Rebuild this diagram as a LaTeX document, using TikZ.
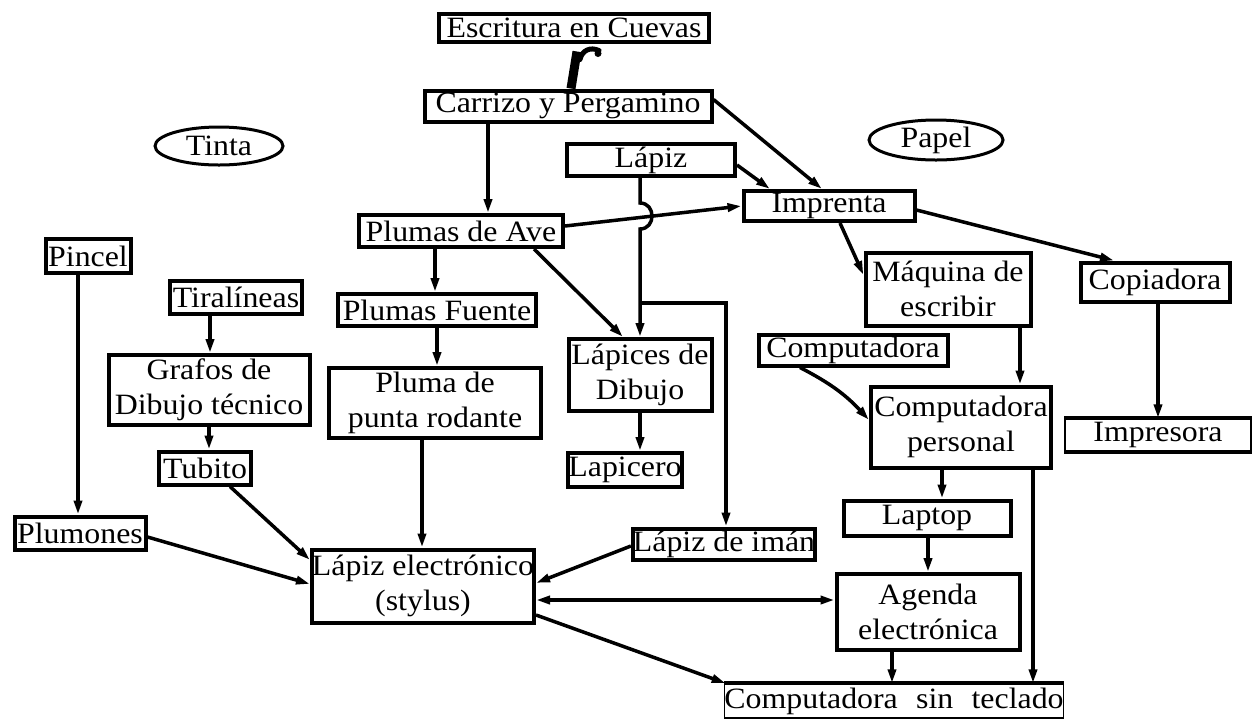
\documentclass[tikz,border=0pt]{standalone}
\usepackage{fontspec}
\setmainfont{Liberation Serif}[FakeStretch=1.08]
\usetikzlibrary{arrows.meta,shapes.geometric}
\tikzset{
  txt/.style={font=\fontsize{29.5}{35}\selectfont},
  box/.style={txt, draw, line width=4pt, inner sep=0pt, align=center},
  thinbox/.style={txt, draw, line width=1.5pt, inner sep=0pt, align=center},
  oval/.style={txt, ellipse, draw, line width=3pt, inner sep=0pt},
  link/.style={line width=3.5pt, -{Triangle[length=14pt,width=8pt]}},
  twoway/.style={line width=3.5pt, {Triangle[length=14pt,width=8pt]}-{Triangle[length=14pt,width=8pt]}},
  plain/.style={line width=3.5pt}
}
\begin{document}
\begin{tikzpicture}[x=1pt,y=-1pt]
\useasboundingbox (0,0) rectangle (1255,724);

% ---- nodes ----
\node[box, minimum width=270pt, minimum height=28pt] (esc) at (574,27.5) {Escritura en Cuevas};
\node[box, minimum width=287pt, minimum height=31pt] (carr) at (568,106) {Carrizo y Pergamino};
\node[oval, minimum width=128pt, minimum height=38pt] (tinta) at (219,146) {Tinta};
\node[oval, minimum width=134pt, minimum height=40pt] (papel) at (936,140) {Papel};
\node[box, minimum width=168pt, minimum height=32pt] (lapiz) at (651,160) {Lápiz};
\node[box, minimum width=171pt, minimum height=30pt] (impr) at (829,206) {Imprenta};
\node[box, minimum width=204pt, minimum height=32pt] (pave) at (461,231) {Plumas de Ave};
\node[box, minimum width=85pt, minimum height=34pt] (pincel) at (88,256) {Pincel};
\node[box, minimum width=132pt, minimum height=33pt] (tira) at (236,297) {Tiralíneas};
\node[box, minimum width=198pt, minimum height=32pt] (pfuente) at (437,310) {Plumas Fuente};
\node[box, minimum width=165pt, minimum height=73pt] (maq) at (948,289) {Máquina de\\escribir};
\node[box, minimum width=149pt, minimum height=39pt] (copia) at (1155,282) {Copiadora};
\node[box, minimum width=201pt, minimum height=70pt] (grafos) at (209,390) {Grafos de\\Dibujo técnico};
\node[box, minimum width=212pt, minimum height=70pt] (prod) at (435,403) {Pluma de\\punta rodante};
\node[box, minimum width=143pt, minimum height=72pt] (ldib) at (640,375) {Lápices de\\Dibujo};
\node[box, minimum width=189pt, minimum height=31pt] (comp) at (853,350) {Computadora};
\node[box, minimum width=180pt, minimum height=81pt] (cpers) at (961,427) {Computadora\\personal};
\node[thinbox, minimum width=186pt, minimum height=32pt] (impres) at (1158,435) {Impresora};
\node[box, minimum width=92pt, minimum height=33pt] (tubito) at (205,468) {Tubito};
\node[box, minimum width=113pt, minimum height=34pt] (lapicero) at (625,470) {Lapicero};
\node[box, minimum width=131pt, minimum height=33pt] (plum) at (80,533) {Plumones};
\node[box, minimum width=167pt, minimum height=35pt] (laptop) at (927,518) {Laptop};
\node[box, minimum width=181pt, minimum height=31pt] (iman) at (724,544) {Lápiz de imán};
\node[box, minimum width=219pt, minimum height=73pt] (stylus) at (423,586) {Lápiz electrónico\\(stylus)};
\node[box, minimum width=183pt, minimum height=76pt] (agenda) at (928,612) {Agenda\\electrónica};
\node[thinbox, minimum width=334pt, minimum height=34pt] (cst) at (894,701) {Computadora\hspace{0.35em} sin\hspace{0.35em} teclado};

% heavy top and bottom rules of the bracketed boxes
\draw[line width=4pt] (impres.north west) -- (impres.north east);
\draw[line width=4pt] (impres.south west) -- (impres.south east);
\draw[line width=4pt] (cst.north west) -- (cst.north east);

% ---- connectors ----
% heavy hooked stroke from the caves to reed and parchment
\draw[line width=9pt] ([xshift=3pt]carr.north) -- ([xshift=3pt,yshift=-8pt]esc.south);
\draw[line width=5pt, line cap=round] ([xshift=6pt,yshift=-16pt]esc.south)
  .. controls ([xshift=8pt,yshift=-7pt]esc.south) and ([xshift=16pt,yshift=-3pt]esc.south)
  .. ([xshift=25pt,yshift=-7pt]esc.south);
\fill ([xshift=24pt,yshift=-10pt]esc.south) circle (3.5pt);

\draw[link] ([xshift=-80pt]carr.south) -- ([xshift=27pt]pave.north);
\draw[link] ([yshift=-11pt]carr.north east) -- ([xshift=-7pt]impr.north);
\draw[link] ([yshift=-5pt]lapiz.east) -- ([xshift=-59pt]impr.north);
\draw[link] ([yshift=5pt]pave.east) -- (impr.west);

% pencil line jumping over the quill-to-press line
\coordinate (jumpa) at (640,203);
\coordinate (jumpb) at (640,229);
\coordinate (fork) at (640,303);
\draw[link] ([xshift=-11pt]lapiz.south) -- (jumpa)
  .. controls (656,203) and (656,229) .. (jumpb) -- (ldib.north);
\draw[link] (fork) -| ([xshift=2pt]iman.north);

\draw[link] ([xshift=-26pt]pave.south) -- ([xshift=-2pt]pfuente.north);
\draw[link] ([xshift=73pt]pave.south) -- ([xshift=-17pt]ldib.north);
\draw[link] (pfuente.south) -- ([xshift=2pt]prod.north);
\draw[link] ([xshift=-13pt]prod.south) -- ([xshift=-1pt]stylus.north);
\draw[link] (ldib.south) -- ([xshift=15pt]lapicero.north);

\draw[link] ([xshift=-26pt]tira.south) -- ([xshift=1pt]grafos.north);
\draw[link] (grafos.south) -- ([xshift=4pt]tubito.north);
\draw[link] ([xshift=25pt]tubito.south) -- ([yshift=26pt]stylus.west);
\draw[link] ([xshift=-10pt]pincel.south) -- ([xshift=-2pt]plum.north);
\draw[link] ([yshift=-4pt]plum.east) -- ([yshift=2pt]stylus.west);
\draw[link] ([yshift=-2pt]iman.west) -- ([yshift=3pt]stylus.east);
\draw[twoway] ([yshift=-14pt]stylus.east) -- ([yshift=12pt]agenda.west);
\draw[link] ([yshift=-29pt]stylus.east) -- ([xshift=2pt]cst.north west);

\draw[link] ([xshift=11pt]impr.south) -- ([yshift=14pt]maq.west);
\draw[link] ([yshift=-4pt]impr.east) -- ([xshift=-41pt]copia.north);
\draw[link] ([xshift=3pt]copia.south) -- (impres.north);
\draw[link] ([xshift=72pt]maq.south) -- ([xshift=59pt]cpers.north);
\draw[link] ([xshift=-53pt]comp.south) to[bend left=10] ([yshift=7pt]cpers.west);
\draw[link] ([xshift=-19pt]cpers.south) -- ([xshift=15pt]laptop.north);
\draw[link] ([xshift=1pt]laptop.south) -- (agenda.north);
\draw[link] ([xshift=72pt]cpers.south) -- ([xshift=139pt]cst.north);
\draw[link] ([xshift=-36pt]agenda.south) -- ([xshift=-2pt]cst.north);
\end{tikzpicture}
\end{document}
